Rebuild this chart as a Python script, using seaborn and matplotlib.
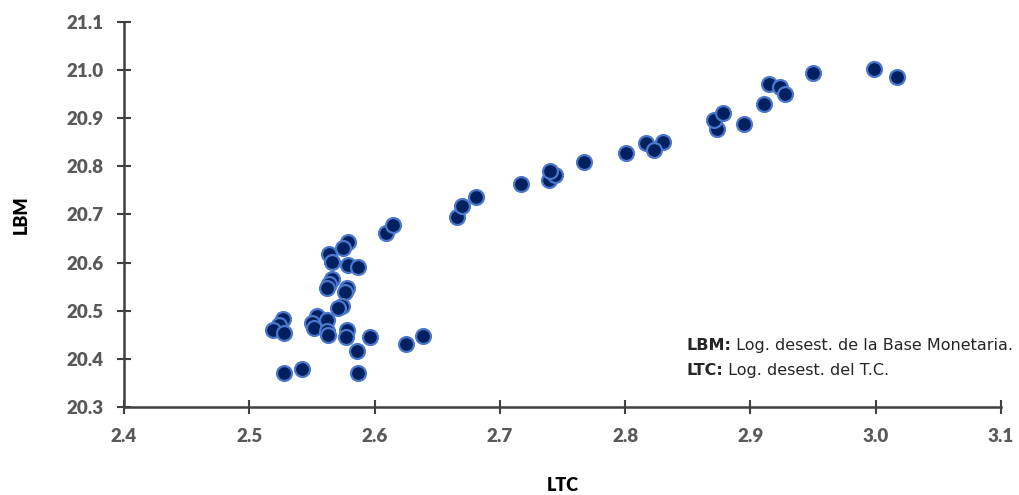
import numpy as np
import pandas as pd
import seaborn as sns
import matplotlib.pyplot as plt

# LTC (log desest. tipo de cambio) vs LBM (log desest. base monetaria)
ltc = [2.579, 2.575, 2.564, 2.566, 2.579, 2.587, 2.566, 2.564, 2.562, 2.578,
       2.576, 2.574, 2.571, 2.527, 2.524, 2.519, 2.528, 2.554, 2.562, 2.550,
       2.552, 2.562, 2.563, 2.578, 2.577, 2.596, 2.586, 2.625, 2.528, 2.542,
       2.587, 2.609, 2.639, 2.615, 2.666, 2.670, 2.681, 2.717, 2.739, 2.744,
       2.740, 2.767, 2.801, 2.817, 2.830, 2.823, 2.873, 2.871, 2.878, 2.895,
       2.911, 2.915, 2.924, 2.928, 2.950, 2.999, 3.017]
lbm = [20.642, 20.630, 20.618, 20.602, 20.595, 20.591, 20.566, 20.555, 20.548, 20.548,
       20.538, 20.509, 20.505, 20.483, 20.470, 20.459, 20.453, 20.489, 20.480, 20.475,
       20.465, 20.458, 20.449, 20.459, 20.445, 20.445, 20.416, 20.430, 20.370, 20.378,
       20.371, 20.661, 20.447, 20.678, 20.695, 20.718, 20.736, 20.763, 20.772, 20.783,
       20.791, 20.809, 20.827, 20.848, 20.851, 20.835, 20.878, 20.896, 20.911, 20.887,
       20.930, 20.971, 20.964, 20.950, 20.995, 21.002, 20.986]

x_ticks = [2.4, 2.5, 2.6, 2.7, 2.8, 2.9, 3.0, 3.1]
y_ticks = [20.3, 20.4, 20.5, 20.6, 20.7, 20.8, 20.9, 21.0, 21.1]

df = pd.DataFrame({"LTC": ltc, "LBM": lbm})

sns.set_style("white")
plt.rcParams["font.family"] = ["Lato", "DejaVu Sans"]

fig = plt.figure(figsize=(10.19, 4.95), dpi=100)
ax = fig.add_axes([0.1217, 0.1778, 0.8606, 0.7778])

sns.scatterplot(data=df, x="LTC", y="LBM", ax=ax, s=115,
                color="#002060", edgecolor="#4a78cc", linewidth=1.6, zorder=3,
                clip_on=False)

ax.set_xlim(2.4, 3.1)
ax.set_ylim(20.3, 21.1)
ax.set_xticks(x_ticks)
ax.set_yticks(y_ticks)
ax.set_xticklabels([f"{v:.1f}" for v in x_ticks])
ax.set_yticklabels([f"{v:.1f}" for v in y_ticks])

sns.despine(ax=ax)
for side in ["left", "bottom"]:
    ax.spines[side].set_color("#404040")
    ax.spines[side].set_linewidth(1.8)

ax.tick_params(axis="both", which="major", bottom=True, left=True,
               direction="inout", length=10, width=1.5,
               color="#404040", labelcolor="#595959", labelsize=13.5)
ax.tick_params(axis="y", pad=10)
ax.tick_params(axis="x", pad=10)
for lab in ax.get_xticklabels() + ax.get_yticklabels():
    lab.set_fontweight("heavy")

ax.set_xlabel("LTC", fontsize=13, fontweight="heavy", color="black", labelpad=23)
ax.set_ylabel("LBM", fontsize=13, fontweight="heavy", color="black", labelpad=26)

# nota con las definiciones
fig.canvas.draw()
rend = fig.canvas.get_renderer()
notes = [("LBM:", " Log. desest. de la Base Monetaria.", 0.161),
         ("LTC:", " Log. desest. del T.C.", 0.096)]
for bold, rest, yy in notes:
    t = ax.text(0.641, yy, bold, transform=ax.transAxes, fontsize=11.5,
                fontweight="bold", family=["DejaVu Sans"], va="center")
    bb = t.get_window_extent(renderer=rend).transformed(ax.transAxes.inverted())
    ax.text(bb.x1, yy, rest, transform=ax.transAxes, fontsize=11.5,
            family=["DejaVu Sans"], va="center")

fig.savefig("out.png", dpi=100)
